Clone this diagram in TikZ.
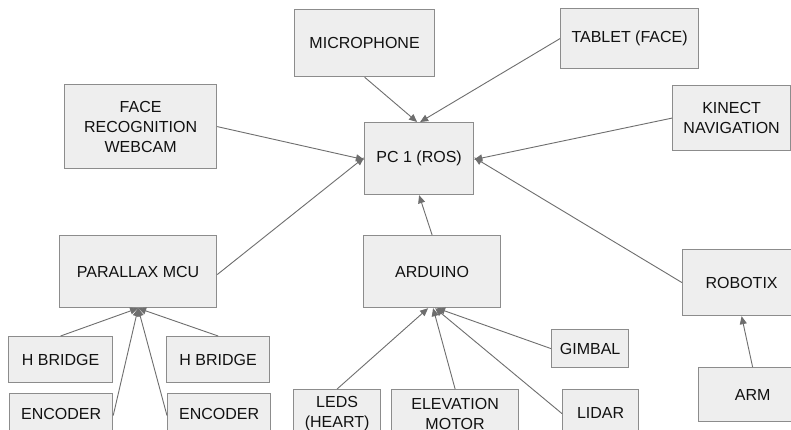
\documentclass[tikz,border=0pt]{standalone}
\usepackage{fontspec}
\setmainfont{Liberation Sans}
\usetikzlibrary{arrows.meta}
\definecolor{boxfill}{HTML}{EEEEEE}
\definecolor{boxline}{HTML}{8C8C8C}
\definecolor{arrline}{HTML}{6E6E6E}
\definecolor{txt}{HTML}{111111}
\tikzset{
  blk/.style={draw=boxline, line width=1.2pt, fill=boxfill, anchor=north west, inner sep=0pt,
    align=center, text=txt, font=\fontsize{16}{20}\selectfont},
  arr/.style={draw=arrline, line width=0.9pt, -{Triangle[length=8pt,width=7pt]}},
}
\begin{document}
\begin{tikzpicture}[x=1pt,y=-1pt]
\clip (0,0) rectangle (791,430);
\fill[white] (0,0) rectangle (791,430);
\node[blk, minimum width=140pt, minimum height=67pt] (mic) at (294,9) {MICROPHONE};
\node[blk, minimum width=138pt, minimum height=60pt] (tab) at (560,8) {TABLET (FACE)};
\node[blk, minimum width=152pt, minimum height=84pt] (face) at (64,84) {FACE\\RECOGNITION\\WEBCAM};
\node[blk, minimum width=118pt, minimum height=65pt] (kin) at (672,85) {KINECT\\NAVIGATION};
\node[blk, minimum width=109pt, minimum height=72pt] (pc) at (364,122) {PC 1 (ROS)};
\node[blk, minimum width=157pt, minimum height=72pt] (par) at (59,235) {PARALLAX MCU};
\node[blk, minimum width=137pt, minimum height=72pt] (ard) at (363,235) {ARDUINO};
\node[blk, minimum width=118pt, minimum height=66pt] (rob) at (682,249) {ROBOTIX};
\node[blk, minimum width=108pt, minimum height=54pt] (arm) at (698,367) {ARM};
\node[blk, minimum width=104pt, minimum height=46pt] (hb1) at (8,336) {H BRIDGE};
\node[blk, minimum width=103pt, minimum height=46pt] (hb2) at (166,336) {H BRIDGE};
\node[blk, minimum width=103pt, minimum height=40pt] (enc1) at (9,393) {ENCODER};
\node[blk, minimum width=103pt, minimum height=40pt] (enc2) at (167,393) {ENCODER};
\node[blk, minimum width=77pt, minimum height=38pt] (gim) at (551,329) {GIMBAL};
\node[blk, minimum width=87pt, minimum height=48pt] (leds) at (293,389) {LEDS\\(HEART)};
\node[blk, minimum width=127pt, minimum height=48pt] (elev) at (391,389) {ELEVATION\\MOTOR};
\node[blk, minimum width=76pt, minimum height=46pt] (lid) at (562,389) {LIDAR};
% connectors
\draw[arr] (mic.south) -- ([xshift=-2pt]pc.north);
\draw[arr] (tab.west) -- ([xshift=1pt]pc.north);
\draw[arr] (face.east) -- ([yshift=-1pt]pc.west);
\draw[arr] ([yshift=-3pt]par.east) -- ([yshift=1pt]pc.west);
\draw[arr] (kin.west) -- ([yshift=-1pt]pc.east);
\draw[arr] (rob.west) -- ([yshift=1pt]pc.east);
\draw[arr] (ard.north) -- (pc.south);
\draw[arr] (hb1.north) -- (par.south);
\draw[arr] (hb2.north) -- (par.south);
\draw[arr] ([yshift=-2pt]enc1.east) -- (par.south);
\draw[arr] ([yshift=-2pt]enc2.west) -- (par.south);
\draw[arr] (leds.north) -- ([xshift=-4pt]ard.south);
\draw[arr] (elev.north) -- ([xshift=1pt]ard.south);
\draw[arr] ([yshift=-1pt]lid.west) -- ([xshift=3pt]ard.south);
\draw[arr] (gim.west) -- ([xshift=5pt]ard.south);
\draw[arr] (arm.north) -- (rob.south);
\end{tikzpicture}
\end{document}
